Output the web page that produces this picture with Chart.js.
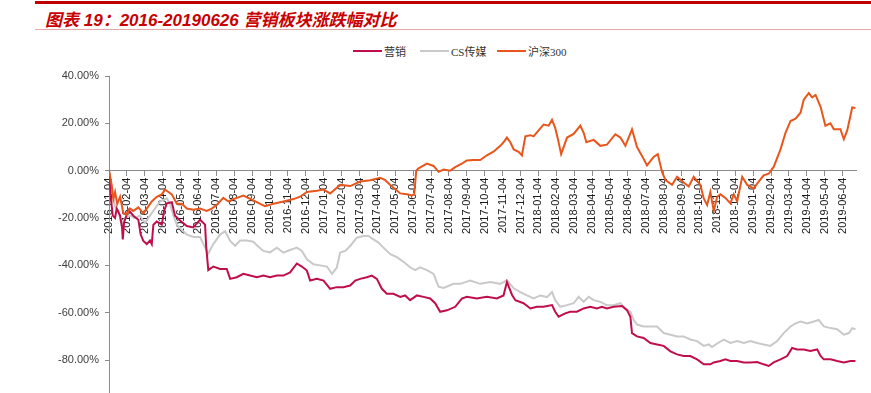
<!DOCTYPE html>
<html>
<head>
<meta charset="utf-8">
<script src="https://cdn.jsdelivr.net/npm/chart.js@4.4.1/dist/chart.umd.min.js"></script>
<style>
html,body{margin:0;padding:0;width:871px;height:393px;overflow:hidden;background:#fff;}
#topline{position:absolute;left:35px;top:1px;width:836px;height:3px;background:#C00000;}
#title{position:absolute;left:45px;top:6px;line-height:20px;font:italic bold 17px "Liberation Sans","Noto Sans CJK SC",sans-serif;color:#C80000;white-space:nowrap;}
#subline{position:absolute;left:35px;top:29px;width:836px;height:1px;background:#E4A8A8;}
.item{position:absolute;top:44px;height:14px;display:flex;align-items:center;white-space:nowrap;font:11px "Liberation Serif","Noto Sans CJK SC",serif;color:#333;}
.sw{display:inline-block;width:29px;height:2px;margin-right:2px;}
#wrap{position:absolute;left:0;top:60px;width:871px;height:360px;}
</style>
</head>
<body>
<div id="topline"></div>
<div id="title">图表 19：2016-20190626 营销板块涨跌幅对比</div>
<div id="subline"></div>
<div class="item" style="left:353px"><span class="sw" style="background:#C00F48"></span>营销</div>
<div class="item" style="left:420px"><span class="sw" style="background:#C9C9C9"></span>CS传媒</div>
<div class="item" style="left:497px"><span class="sw" style="background:#E8561C"></span>沪深300</div>
<div id="wrap"><canvas id="c" width="871" height="360"></canvas></div>
<script>
// Tick labels (x axis: one per month, positions in months since 2016-01-04)
const monthLabels = ["2016-01-04","2016-02-04","2016-03-04","2016-04-04","2016-05-04","2016-06-04","2016-07-04","2016-08-04","2016-09-04","2016-10-04","2016-11-04","2016-12-04",
"2017-01-04","2017-02-04","2017-03-04","2017-04-04","2017-05-04","2017-06-04","2017-07-04","2017-08-04","2017-09-04","2017-10-04","2017-11-04","2017-12-04",
"2018-01-04","2018-02-04","2018-03-04","2018-04-04","2018-05-04","2018-06-04","2018-07-04","2018-08-04","2018-09-04","2018-10-04","2018-11-04","2018-12-04",
"2019-01-04","2019-02-04","2019-03-04","2019-04-04","2019-05-04","2019-06-04"];
const yTicks = [40,20,0,-20,-40,-60,-80,-100];

// 沪深300 (cumulative change, %)
const hs300Months = [0,0.15,0.24,0.34,0.46,0.62,0.80,0.99,1.17,1.36,1.64,1.92,2.11,2.39,2.67,2.95,3.13,3.32,3.51,3.79,4.07,4.35,4.71,5.09,5.46,5.74,6.02,6.39,6.67,6.95,7.51,8.07,8.45,8.72,9.19,9.75,10.31,10.68,11.06,11.62,11.99,12.36,12.92,13.48,14.04,14.60,15.16,15.44,15.72,16.28,16.65,16.93,17.06,17.17,17.30,17.77,18.14,18.42,18.70,19.07,19.35,19.72,20.00,20.37,20.75,21.12,21.49,21.87,22.05,22.24,22.43,22.62,22.89,23.08,23.27,23.55,23.73,24.01,24.29,24.57,24.76,24.94,25.10,25.27,25.60,25.97,26.34,26.53,26.68,27.09,27.46,27.83,28.30,28.58,28.86,29.23,29.51,29.88,30.07,30.44,30.67,30.91,31.10,31.47,31.75,32.12,32.40,32.68,33.05,33.24,33.43,33.61,33.80,33.99,34.17,34.45,34.73,34.92,35.11,35.39,35.67,36.03,36.31,36.59,36.87,37.15,37.53,37.81,38.09,38.37,38.65,38.83,39.11,39.30,39.49,39.77,40.04,40.32,40.51,40.88,41.07,41.26,41.54,41.72];
const hs300Values = [0,-6,-12,-9,-14,-11,-18,-18.5,-16,-17,-15.5,-18,-16,-13,-11,-10,-8,-9,-10,-14,-14,-16,-16.5,-16,-17,-16,-14.5,-11.5,-13,-12,-10.5,-12.5,-14,-15,-14,-13,-12,-11,-9,-8.5,-8,-9.6,-6,-6.5,-4.6,-4,-3,-4,-6,-9.6,-10,-10.5,-10,0,1,3,2,-0.5,0.5,0,1.5,3,4.3,4.5,4.5,6.5,8,10.5,12,14,12,9,8,6.5,14.5,15,14.5,17,19.5,19,21.5,18,13,7,14,15.5,19,16,12,13,10.5,11,15.4,14,10.5,17.5,10,5,2.2,5.8,7,-0.5,-4,-6,-2.6,-5,-6.7,-2.6,-6,-11.7,-14.5,-9,-17,-11,-10,-11.5,-13.8,-10,-13,-2.6,-6,-7.5,-4.6,-2,-1.3,1.6,9,16,21,22,24.5,30,32.8,31,32,27,19,20,17.5,17.5,13.3,17,26.7,26.5];

// CS传媒
const mediaMonths = [0,0.21,0.34,0.52,0.71,0.89,1.17,1.45,1.73,2.01,2.29,2.57,2.85,3.23,3.41,3.60,3.79,4.07,4.35,4.71,5.09,5.37,5.55,5.83,6.21,6.49,6.77,7.05,7.33,7.70,8.07,8.26,8.63,9.00,9.38,9.75,10.12,10.50,10.78,11.06,11.43,11.80,12.18,12.46,12.73,12.92,13.20,13.48,13.85,14.22,14.50,14.78,15.06,15.34,15.72,16.09,16.46,16.83,17.11,17.39,17.77,18.14,18.42,18.70,19.26,19.63,20.19,20.75,21.31,21.87,22.24,22.62,22.99,23.36,23.73,24.11,24.48,24.76,24.94,25.22,25.60,25.97,26.25,26.53,26.81,27.09,27.46,27.83,28.21,28.58,28.86,29.14,29.32,29.51,29.88,30.26,30.63,31.00,31.38,31.75,32.12,32.49,32.87,33.24,33.52,33.70,33.99,34.36,34.73,35.11,35.48,35.85,36.22,36.59,36.97,37.34,37.71,38.09,38.37,38.65,39.02,39.39,39.67,39.95,40.32,40.70,41.07,41.35,41.54,41.72];
const mediaValues = [0,-10,-15,-17,-23,-20,-19,-20,-19,-22,-19,-16,-13,-11.7,-14,-19,-22.8,-25,-27,-28,-28,-32.5,-35,-31,-27,-25.6,-29.7,-31.7,-29.5,-29.5,-30,-31.5,-33.9,-34.5,-32.5,-34.6,-33.5,-32.5,-33.9,-37.4,-39.5,-40,-40.5,-43.6,-41,-34.6,-33.9,-31.8,-28.3,-27.6,-27.6,-29,-30.4,-32.5,-35.3,-36.5,-38.5,-40.8,-42,-40.8,-42,-43.6,-49,-49.5,-47.8,-47.8,-46.4,-47.8,-47,-47.8,-46.3,-49.7,-51.3,-52.7,-54,-52.7,-53.4,-51.3,-54.7,-57.5,-56.8,-56,-53.3,-55.4,-53.3,-54.7,-55.4,-56.8,-56.8,-56,-58.2,-59.6,-63,-65,-65.8,-65.8,-65.8,-68.6,-69.3,-70,-70,-71.3,-72,-74,-73.4,-74.5,-73,-71.4,-72.8,-72,-72.8,-72,-72.8,-73.4,-74,-72,-68.6,-65.8,-64.5,-63.7,-64.5,-63.7,-63,-65.8,-66.5,-67,-69.3,-68.6,-66.5,-67];

// 营销
const marketingMonths = [0,0.11,0.21,0.34,0.43,0.62,0.73,0.77,0.84,1.08,1.36,1.64,1.77,1.92,2.11,2.29,2.39,2.48,2.67,2.95,3.08,3.23,3.51,3.69,3.97,4.35,4.71,5.09,5.37,5.43,5.55,5.83,6.21,6.58,6.77,7.14,7.51,7.89,8.26,8.63,9.00,9.38,9.75,10.12,10.50,10.78,11.06,11.24,11.62,11.99,12.36,12.73,13.10,13.48,13.76,14.04,14.41,14.69,14.97,15.25,15.53,15.90,16.28,16.55,16.83,17.21,17.58,17.95,18.23,18.51,18.89,19.35,19.72,20.00,20.56,21.12,21.68,22.05,22.24,22.52,22.71,23.17,23.55,23.92,24.29,24.76,24.94,25.13,25.50,25.78,26.15,26.53,26.90,27.27,27.55,27.83,28.21,28.67,28.95,29.14,29.23,29.51,29.88,30.26,30.63,31.00,31.38,31.75,32.12,32.49,32.87,33.24,33.61,33.80,34.17,34.45,34.73,35.11,35.48,35.85,36.22,36.59,36.87,37.15,37.53,37.90,38.18,38.46,38.83,39.20,39.58,39.77,39.95,40.32,40.70,41.07,41.44,41.72];
const marketingValues = [0,-12,-19,-20,-16,-19,-24,-29,-22,-16.5,-19,-20.7,-27,-29.7,-31,-29.5,-31,-22.8,-21.5,-22.8,-17,-13.8,-13.3,-19,-21,-23.4,-24,-20.7,-22.8,-32,-42,-40.5,-41.5,-41.5,-45.7,-45,-43.6,-44.3,-45,-44.3,-45,-44.3,-44.3,-43,-39.2,-40.5,-42.2,-46.4,-45.7,-46.4,-49.9,-49.2,-49.2,-48.5,-46.4,-45.7,-45,-44.3,-45.7,-49.9,-52,-52,-53.3,-52.7,-54.7,-52.7,-53.3,-54,-56,-59.6,-59,-57.5,-54,-53.3,-54,-53.3,-54,-52.7,-47,-52.4,-54.7,-56,-58.2,-57.5,-57.5,-56.8,-59.6,-61.7,-60.3,-59.6,-59.6,-58.2,-57.5,-58.2,-57.5,-58.2,-57.5,-57.2,-58.9,-61.7,-68.6,-70,-70.7,-72.8,-73.4,-74,-76.3,-77.6,-78.3,-78.3,-79.7,-81.8,-81.8,-81,-80.4,-79.7,-80.4,-80.4,-81,-81,-80.8,-81.8,-82.5,-81,-79.7,-78.3,-74.9,-75.5,-75.5,-76.2,-75.5,-78.3,-79.7,-79.7,-80.4,-81,-80.4,-80.4];

const pts = (xs, ys) => xs.map((x, i) => ({x: x, y: ys[i]}));

new Chart(document.getElementById('c').getContext('2d'), {
  type: 'line',
  data: {
    datasets: [
      {label: '营销', data: pts(marketingMonths, marketingValues), borderColor: '#C00F48', borderWidth: 2, pointRadius: 0, order: 1},
      {label: 'CS传媒', data: pts(mediaMonths, mediaValues), borderColor: '#C9C9C9', borderWidth: 2, pointRadius: 0, order: 2},
      {label: '沪深300', data: pts(hs300Months, hs300Values), borderColor: '#E8561C', borderWidth: 2, pointRadius: 0, order: 0}
    ]
  },
  options: {
    responsive: false,
    animation: false,
    devicePixelRatio: 1,
    layout: {padding: {left: 0, right: 15, top: 16, bottom: 8}},
    plugins: {legend: {display: false}, tooltip: {enabled: false}},
    elements: {line: {tension: 0}},
    scales: {
      x: {
        type: 'linear', min: 0, max: 41.75, position: {y: 0}, z: 1,
        afterBuildTicks: s => { s.ticks = monthLabels.map((l, i) => ({value: i})); },
        afterFit: s => { s.paddingLeft = 0; s.paddingRight = 0; },
        ticks: {autoSkip: false, minRotation: 90, maxRotation: 90, padding: 2,
          callback: (v, i) => monthLabels[i],
          font: {family: 'Liberation Sans', size: 11}, color: '#1a1a1a'},
        grid: {drawOnChartArea: false, drawTicks: true, tickLength: 5, color: '#8c8c8c'},
        border: {color: '#8c8c8c', width: 1}
      },
      y: {
        min: -100, max: 40,
        afterBuildTicks: s => { s.ticks = yTicks.map(v => ({value: v})); },
        afterFit: s => { s.width = 109; },
        ticks: {padding: 6, callback: v => v.toFixed(2) + '%',
          font: {family: 'Liberation Sans', size: 11}, color: '#404040'},
        grid: {drawOnChartArea: false, drawTicks: true, tickLength: 4, color: '#8c8c8c'},
        border: {color: '#8c8c8c', width: 1}
      }
    }
  }
});
</script>
</body>
</html>
